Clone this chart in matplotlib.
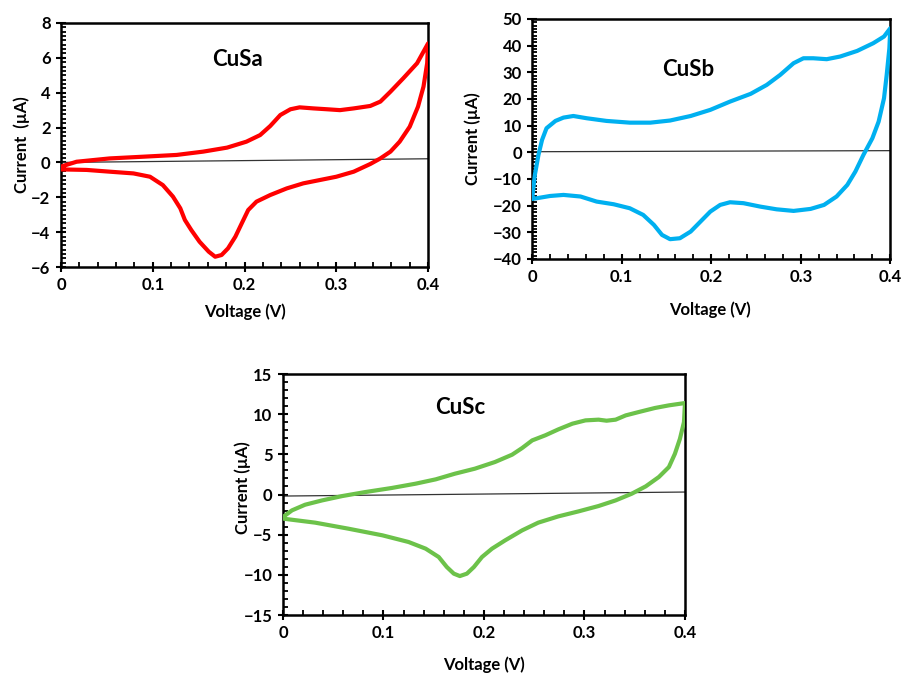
import matplotlib
matplotlib.use("Agg")
import matplotlib.pyplot as plt
from matplotlib.ticker import MultipleLocator

plt.rcParams['font.family'] = ['Lato', 'DejaVu Sans']
plt.rcParams['font.weight'] = 'bold'

# CuSa, forward and reverse scan (V, uA)
a_fwd_v = [0.0, 0.017, 0.053, 0.09, 0.126, 0.155, 0.181, 0.202, 0.217, 0.228, 0.239, 0.25, 0.26,
           0.275, 0.29, 0.304, 0.319, 0.337, 0.348, 0.359, 0.373, 0.388, 0.4]
a_fwd_i = [-0.24, 0.04, 0.23, 0.33, 0.43, 0.62, 0.85, 1.19, 1.57, 2.09, 2.72, 3.05, 3.16,
           3.10, 3.05, 3.0, 3.10, 3.24, 3.49, 4.06, 4.83, 5.69, 6.83]
a_rev_v = [0.4, 0.399, 0.395, 0.389, 0.38, 0.369, 0.359, 0.348, 0.337, 0.319, 0.3, 0.282, 0.264,
           0.246, 0.228, 0.213, 0.204, 0.197, 0.19, 0.182, 0.175, 0.168, 0.161, 0.151, 0.142, 0.135,
           0.13, 0.122, 0.111, 0.097, 0.079, 0.053, 0.028, 0.0]
a_rev_i = [6.83, 5.69, 4.35, 3.2, 2.05, 1.19, 0.62, 0.23, -0.09, -0.53, -0.82, -1.01, -1.2,
           -1.49, -1.87, -2.25, -2.73, -3.49, -4.26, -4.93, -5.31, -5.41, -5.12, -4.55, -3.88, -3.3,
           -2.63, -1.96, -1.3, -0.82, -0.63, -0.53, -0.43, -0.4]

# CuSb
b_fwd_v = [0.0, 0.003, 0.007, 0.011, 0.016, 0.026, 0.035, 0.046, 0.061, 0.083, 0.109, 0.132, 0.154,
           0.177, 0.199, 0.221, 0.244, 0.262, 0.277, 0.292, 0.303, 0.314, 0.329, 0.344, 0.363, 0.381,
           0.393, 0.4]
b_fwd_i = [-17.25, -8.5, -1.0, 4.6, 9.0, 11.75, 13.0, 13.6, 12.75, 11.75, 11.1, 11.1, 11.9,
           13.6, 15.9, 19.0, 21.9, 25.25, 29.0, 33.4, 35.25, 35.25, 34.9, 35.9, 38.0, 40.9,
           43.4, 46.5]
b_rev_v = [0.4, 0.399, 0.396, 0.393, 0.387, 0.38, 0.37, 0.361, 0.352, 0.34, 0.326, 0.311, 0.292,
           0.273, 0.255, 0.236, 0.221, 0.21, 0.199, 0.188, 0.177, 0.165, 0.154, 0.145, 0.136, 0.124,
           0.109, 0.091, 0.072, 0.054, 0.035, 0.02, 0.005, 0.0]
b_rev_i = [46.5, 39.0, 29.0, 20.25, 11.5, 5.25, -1.0, -7.25, -12.25, -16.6, -19.75, -21.25, -22.0,
           -21.4, -20.4, -19.1, -18.75, -19.75, -22.25, -26.0, -29.75, -32.25, -32.6, -31.0, -27.25,
           -23.5, -21.0, -19.5, -18.5, -16.6, -16.0, -16.4, -17.25, -17.5]

# CuSc
c_fwd_v = [0.0, 0.009, 0.022, 0.039, 0.059, 0.082, 0.108, 0.132, 0.152, 0.171, 0.191, 0.211, 0.228,
           0.238, 0.248, 0.261, 0.274, 0.288, 0.301, 0.314, 0.322, 0.331, 0.341, 0.354, 0.37, 0.384,
           0.4]
c_fwd_i = [-2.8, -1.97, -1.27, -0.73, -0.19, 0.31, 0.81, 1.35, 1.89, 2.59, 3.22, 4.05, 4.96,
           5.79, 6.74, 7.37, 8.11, 8.82, 9.23, 9.32, 9.19, 9.32, 9.85, 10.27, 10.77, 11.1,
           11.39]
c_rev_v = [0.4, 0.399, 0.395, 0.39, 0.384, 0.374, 0.361, 0.347, 0.331, 0.314, 0.294, 0.274, 0.254,
           0.238, 0.221, 0.208, 0.198, 0.19, 0.183, 0.176, 0.17, 0.163, 0.155, 0.142, 0.125, 0.099,
           0.065, 0.032, 0.0]
c_rev_i = [11.39, 9.02, 6.95, 5.08, 3.42, 2.18, 1.02, 0.1, -0.73, -1.43, -2.1, -2.72, -3.5,
           -4.46, -5.71, -6.74, -7.78, -9.02, -9.85, -10.15, -9.85, -9.02, -7.78, -6.74, -5.91, -5.08,
           -4.25, -3.5, -3.0]

# thin baseline in each panel (current at 0 V and at 0.4 V)
base_v = [0.0, 0.4]
a_base = [0.0, 0.21]
b_base = [0.2, 0.6]
c_base = [-0.19, 0.31]

panels = [
    dict(name='CuSa', color='#FF0000', fv=a_fwd_v, fi=a_fwd_i, rv=a_rev_v, ri=a_rev_i, base=a_base,
         ylim=(-6, 8), major=2, minor=0.25, ylabel='Current  (µA)',
         rect=[0.0676, 0.605, 0.407, 0.361], title_xy=(0.192, 5.9),
         ylab_xy=(-0.106, 0.5), xlab_xy=(0.5, -0.184)),
    dict(name='CuSb', color='#00B0F0', fv=b_fwd_v, fi=b_fwd_i, rv=b_rev_v, ri=b_rev_i, base=b_base,
         ylim=(-40, 50), major=10, minor=1.25, ylabel='Current (µA)',
         rect=[0.590, 0.617, 0.397, 0.355], title_xy=(0.174, 30.9),
         ylab_xy=(-0.165, 0.5), xlab_xy=(0.497, -0.2125)),
    dict(name='CuSc', color='#6CC24A', fv=c_fwd_v, fi=c_fwd_i, rv=c_rev_v, ri=c_rev_i, base=c_base,
         ylim=(-15, 15), major=5, minor=1, ylabel='Current (µA)',
         rect=[0.3137, 0.0902, 0.4457, 0.3565], title_xy=(0.176, 10.8),
         ylab_xy=(-0.0995, 0.53), xlab_xy=(0.5, -0.207)),
]

fig = plt.figure(figsize=(9.02, 6.76), dpi=100)

for p in panels:
    ax = fig.add_axes(p['rect'])
    ax.plot(base_v, p['base'], color='#333333', lw=0.9, zorder=2)
    ax.plot(p['fv'] + p['rv'], p['fi'] + p['ri'], color=p['color'], lw=3, zorder=3,
            solid_joinstyle='round', solid_capstyle='round')
    ax.set_xlim(0, 0.4)
    ax.set_ylim(*p['ylim'])
    ax.xaxis.set_major_locator(MultipleLocator(0.1))
    ax.xaxis.set_minor_locator(MultipleLocator(0.02))
    ax.yaxis.set_major_locator(MultipleLocator(p['major']))
    ax.yaxis.set_minor_locator(MultipleLocator(p['minor']))
    ax.set_xticks([0, 0.1, 0.2, 0.3, 0.4])
    ax.set_xticklabels(['0', '0.1', '0.2', '0.3', '0.4'])
    ax.tick_params(which='major', direction='inout', length=7, width=1.5, labelsize=12, pad=4,
                   top=False, right=False)
    ax.tick_params(which='minor', direction='in', length=3.5, width=1.3, top=False, right=False)
    for s in ax.spines.values():
        s.set_linewidth(1.8)
    ax.set_xlabel('Voltage (V)', fontsize=12, fontweight='bold')
    ax.set_ylabel(p['ylabel'], fontsize=12, fontweight='bold')
    ax.xaxis.label.set_va('center')
    ax.yaxis.label.set_va('center')
    ax.xaxis.set_label_coords(*p['xlab_xy'])
    ax.yaxis.set_label_coords(*p['ylab_xy'])
    ax.text(p['title_xy'][0], p['title_xy'][1], p['name'], fontsize=16, fontweight='bold',
            ha='center', va='center')

fig.savefig('out.png', dpi=100)
